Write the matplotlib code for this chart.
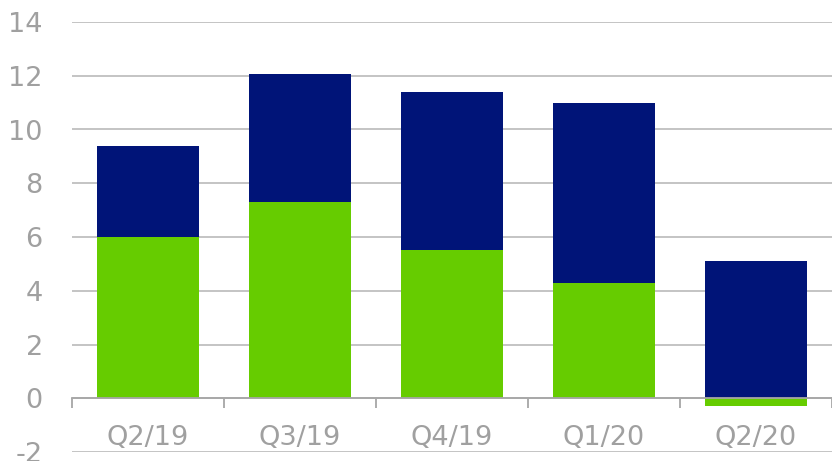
import numpy as np
import matplotlib
matplotlib.use('Agg')
import matplotlib.pyplot as plt

plt.rcParams['axes.unicode_minus'] = False

# data
quarters = ['Q2/19', 'Q3/19', 'Q4/19', 'Q1/20', 'Q2/20']
green_vals = [6.0, 7.3, 5.5, 4.3, -0.3]
navy_vals = [3.4, 4.75, 5.9, 6.7, 5.1]

green = '#66CC00'
navy = '#001478'
grey_txt = '#A0A0A0'

fig = plt.figure(figsize=(8.32, 4.61), dpi=100)
ax = fig.add_axes([72 / 832, 1 - 452 / 461, 760 / 832, 430 / 461])

x = np.arange(len(quarters))
g = np.array(green_vals)
n = np.array(navy_vals)
navy_base = np.where(g > 0, g, 0)  # negative part stacks below zero
ax.bar(x, g, width=0.67, color=green, zorder=2)
ax.bar(x, n, width=0.67, bottom=navy_base, color=navy, zorder=2)

ax.set_xlim(-0.5, 4.5)
ax.set_ylim(-2, 14)
ax.set_yticks(np.arange(-2, 15, 2))
ax.yaxis.grid(True, color='#BFBFBF', linewidth=1.3, zorder=0)
ax.set_axisbelow(True)

for s in ['left', 'right', 'top']:
    ax.spines[s].set_visible(False)
ax.spines['bottom'].set_position(('data', 0))
ax.spines['bottom'].set_color('#A6A6A6')
ax.spines['bottom'].set_linewidth(1.3)
ax.spines['bottom'].set_zorder(3)

ax.set_xticks(x)
ax.set_xticklabels(quarters)
ax.set_xticks(np.arange(-0.5, 4.6, 1), minor=True)
ax.tick_params(axis='x', which='major', length=0, pad=19, labelsize=19.5, labelcolor=grey_txt)
ax.tick_params(axis='x', which='minor', length=7, width=1.3, color='#A6A6A6', direction='out')
ax.tick_params(axis='y', length=0, pad=21, labelsize=19.5, labelcolor=grey_txt)

fig.savefig('out.png', dpi=100)
